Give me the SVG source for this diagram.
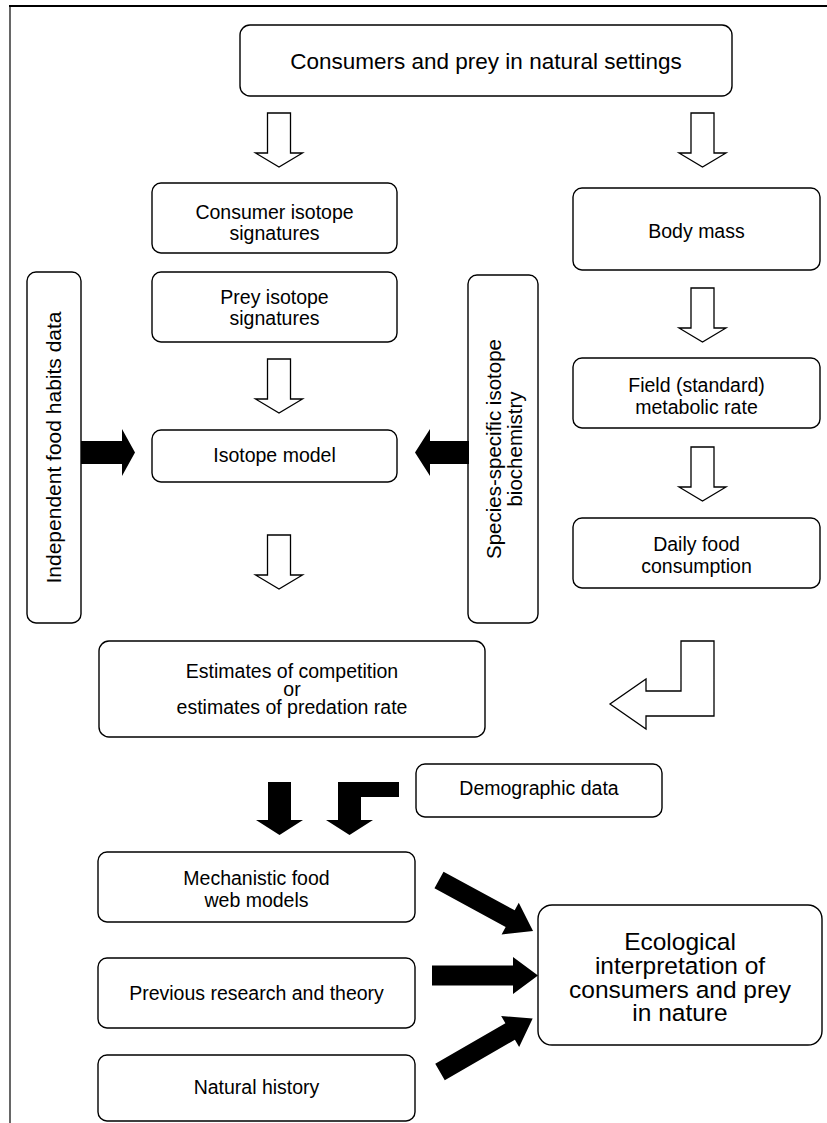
<svg xmlns="http://www.w3.org/2000/svg" width="827" height="1123" viewBox="0 0 827 1123">
<style>
.box{fill:#fff;stroke:#000;stroke-width:1.4}
.t{font-family:"Liberation Sans",Arial,Helvetica,sans-serif;font-size:19.5px;fill:#000;text-anchor:middle}
.hollow{fill:#fff;stroke:#000;stroke-width:1.3;stroke-linejoin:miter}
.solid{fill:#000;stroke:none}
</style>
<rect width="827" height="1123" fill="#fff"/>
<g id="frame">
<line x1="9" y1="6" x2="827" y2="6" stroke="#000" stroke-width="2.2"/>
<line x1="10" y1="6" x2="10" y2="1123" stroke="#000" stroke-width="1.2"/>
</g>
<g id="n-top"><rect class="box" x="240" y="25" width="492" height="71" rx="10"/><text class="t" x="486" y="69" style="font-size:22.5px">Consumers and prey in natural settings</text></g>
<g id="n-consumer"><rect class="box" x="152" y="183" width="245" height="70" rx="9"/><text class="t" x="274.5" y="219">Consumer isotope</text><text class="t" x="274.5" y="240">signatures</text></g>
<g id="n-prey"><rect class="box" x="152" y="272" width="245" height="70" rx="9"/><text class="t" x="274.5" y="304">Prey isotope</text><text class="t" x="274.5" y="325">signatures</text></g>
<g id="n-isotope"><rect class="box" x="152" y="430" width="245" height="52" rx="9"/><text class="t" x="274.5" y="462">Isotope model</text></g>
<g id="n-independent"><rect class="box" x="27" y="272" width="54" height="351" rx="9"/><text class="t" transform="translate(61,447.5) rotate(-90)" style="font-size:21px">Independent food habits data</text></g>
<g id="n-species"><rect class="box" x="468" y="275" width="70" height="348" rx="9"/><text class="t" transform="translate(501,449) rotate(-90)" style="font-size:20.5px">Species-specific isotope</text><text class="t" transform="translate(522,449) rotate(-90)" style="font-size:20.5px">biochemistry</text></g>
<g id="n-body"><rect class="box" x="573" y="188" width="247" height="82" rx="9"/><text class="t" x="696.5" y="238">Body mass</text></g>
<g id="n-field"><rect class="box" x="573" y="358" width="247" height="70" rx="9"/><text class="t" x="696.5" y="392">Field (standard)</text><text class="t" x="696.5" y="414">metabolic rate</text></g>
<g id="n-daily"><rect class="box" x="573" y="518" width="247" height="70" rx="9"/><text class="t" x="696.5" y="551">Daily food</text><text class="t" x="696.5" y="573">consumption</text></g>
<g id="n-estimates"><rect class="box" x="99" y="641" width="386" height="96" rx="10"/><text class="t" x="292" y="678">Estimates of competition</text><text class="t" x="292" y="696">or</text><text class="t" x="292" y="714">estimates of predation rate</text></g>
<g id="n-demographic"><rect class="box" x="416" y="764" width="246" height="53" rx="9"/><text class="t" x="539" y="795">Demographic data</text></g>
<g id="n-mechanistic"><rect class="box" x="98" y="852" width="317" height="70" rx="9"/><text class="t" x="256.5" y="885">Mechanistic food</text><text class="t" x="256.5" y="907">web models</text></g>
<g id="n-previous"><rect class="box" x="98" y="958" width="317" height="70" rx="9"/><text class="t" x="256.5" y="1000">Previous research and theory</text></g>
<g id="n-natural"><rect class="box" x="98" y="1055" width="317" height="66" rx="9"/><text class="t" x="256.5" y="1094">Natural history</text></g>
<g id="n-ecological"><rect class="box" x="538" y="905" width="284" height="140" rx="14"/><text class="t" x="680" y="950" style="font-size:24.5px">Ecological</text><text class="t" x="680" y="974" style="font-size:24.5px">interpretation of</text><text class="t" x="680" y="998" style="font-size:24.5px">consumers and prey</text><text class="t" x="680" y="1021" style="font-size:24.5px">in nature</text></g>
<g id="connectors">
<polygon class="hollow" points="267.5,113 290.5,113 290.5,153 302.5,153 279,167 255.5,153 267.5,153"/>
<polygon class="hollow" points="267.5,359 290.5,359 290.5,399 302.5,399 279,413 255.5,399 267.5,399"/>
<polygon class="hollow" points="267.5,535 290.5,535 290.5,575 302.5,575 279,589 255.5,575 267.5,575"/>
<polygon class="hollow" points="691,113 714,113 714,153 726,153 702.5,167 679,153 691,153"/>
<polygon class="hollow" points="691,288 714,288 714,328 726,328 702.5,342 679,328 691,328"/>
<polygon class="hollow" points="691,447 714,447 714,487 726,487 702.5,501 679,487 691,487"/>
<polygon class="hollow" points="681,641 714,641 714,716 646,716 646,729 610,704 646,679 646,691 681,691"/>
<polygon class="solid" points="81,441 122,441 122,429 135,452.5 122,476 122,464 81,464"/>
<polygon class="solid" points="469,441 430,441 430,429 415,452.5 430,476 430,464 469,464"/>
<polygon class="solid" points="268,782 291,782 291,820 303,820 279.5,835 256,820 268,820"/>
<polygon class="solid" points="399,782 399,797 361,797 361,820 373,820 349.5,835 326,820 338,820 338,782"/>
<polygon class="solid" transform="translate(439,880) rotate(28.5)" points="0,-9.5 81,-9.5 81,-18 107,0 81,18 81,9.5 0,9.5"/>
<polygon class="solid" points="432,965.5 513,965.5 513,957 538,975.5 513,994 513,985.5 432,985.5"/>
<polygon class="solid" transform="translate(440,1072) rotate(-30)" points="0,-9.5 81,-9.5 81,-18 107,0 81,18 81,9.5 0,9.5"/>
</g>
</svg>
